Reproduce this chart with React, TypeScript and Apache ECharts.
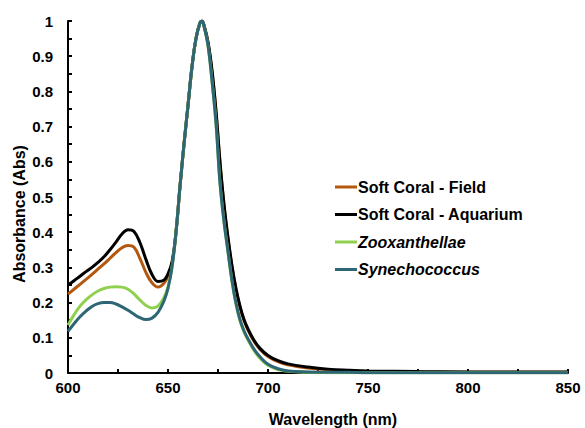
import React, { useEffect, useRef } from "react";
import * as echarts from "echarts";

const wavelengths = [600,603,606,609,612,615,618,621,624,627,630,633,636,639,642,645,648,650,652,654,656,658,660,662,664,666,667,668,670,672,674,676,678,680,682,684,686,688,690,693,696,700,705,710,720,730,740,750,775,800,825,850];

const softCoralField = [0.224,0.238,0.252,0.266,0.28,0.295,0.31,0.326,0.342,0.356,0.362,0.357,0.325,0.285,0.256,0.244,0.255,0.275,0.31,0.4,0.53,0.65,0.76,0.87,0.95,0.995,1.0,0.987,0.938,0.857,0.742,0.597,0.477,0.382,0.302,0.237,0.187,0.149,0.122,0.09,0.067,0.047,0.032,0.023,0.014,0.009,0.006,0.004,0.003,0.002,0.002,0.002];

const softCoralAquarium = [0.25,0.262,0.275,0.288,0.3,0.314,0.33,0.35,0.372,0.395,0.407,0.402,0.37,0.322,0.28,0.26,0.264,0.282,0.315,0.4,0.53,0.65,0.76,0.87,0.95,0.995,1.0,0.988,0.94,0.86,0.745,0.6,0.48,0.385,0.305,0.24,0.19,0.152,0.125,0.093,0.07,0.05,0.035,0.026,0.017,0.011,0.008,0.006,0.004,0.003,0.003,0.003];

const zooxanthellae = [0.136,0.165,0.19,0.208,0.222,0.233,0.24,0.244,0.245,0.244,0.238,0.225,0.207,0.192,0.185,0.19,0.215,0.245,0.3,0.4,0.53,0.65,0.76,0.87,0.95,0.995,1.0,0.985,0.93,0.83,0.71,0.54,0.43,0.343,0.26,0.195,0.148,0.117,0.094,0.064,0.042,0.022,0.01,0.005,0.002,0.001,0.001,0.001,0.001,0.001,0.001,0.001];

const synechococcus = [0.118,0.14,0.16,0.176,0.189,0.197,0.2,0.2,0.196,0.188,0.178,0.167,0.157,0.152,0.156,0.172,0.205,0.24,0.3,0.4,0.53,0.65,0.76,0.87,0.95,0.995,1.0,0.985,0.93,0.83,0.71,0.54,0.43,0.345,0.262,0.198,0.152,0.12,0.097,0.068,0.046,0.025,0.012,0.006,0.003,0.002,0.002,0.001,0.001,0.001,0.001,0.001];

const seriesNames = ["Soft Coral - Field", "Soft Coral - Aquarium", "Zooxanthellae", "Synechococcus"];
const seriesValues = [softCoralField, softCoralAquarium, zooxanthellae, synechococcus];
const seriesColors = ["#B5580F", "#000000", "#8FD14F", "#2E6675"];
const italicNames = ["Zooxanthellae", "Synechococcus"];

const FONT = "Liberation Sans, Arial, sans-serif";

export default function App() {
  const ref = useRef<HTMLDivElement>(null);
  useEffect(() => {
    if (!ref.current) return;
    const chart = echarts.init(ref.current, null, { renderer: "svg" });
    const series = seriesNames.map((name, i) => ({
      name,
      type: "line",
      data: wavelengths.map((w, j) => [w, seriesValues[i][j]]),
      smooth: 0.4,
      showSymbol: false,
      symbol: "none",
      lineStyle: { color: seriesColors[i], width: 3 },
      itemStyle: { color: seriesColors[i] },
      z: 2 + i,
    }));
    chart.setOption({
      animation: false,
      backgroundColor: "#ffffff",
      grid: { left: 68, right: 17, top: 21, bottom: 55 },
      legend: {
        orient: "vertical",
        left: 330,
        top: 174,
        itemWidth: 22,
        itemHeight: 3,
        itemGap: 11.5,
        icon: "rect",
        data: seriesNames,
        formatter: (name: string) =>
          italicNames.includes(name) ? `{i|${name}}` : `{n|${name}}`,
        textStyle: {
          fontFamily: FONT,
          fontSize: 16,
          fontWeight: "bold",
          color: "#000",
          padding: [0, 0, 0, -4],
          rich: {
            n: { fontFamily: FONT, fontSize: 16, fontWeight: "bold", color: "#000" },
            i: { fontFamily: FONT, fontSize: 16, fontWeight: "bold", fontStyle: "italic", color: "#000" },
          },
        },
      },
      xAxis: {
        type: "value",
        min: 600,
        max: 850,
        interval: 50,
        axisLine: { show: true, lineStyle: { color: "#000", width: 2 } },
        axisTick: { show: true, inside: true, length: 4, lineStyle: { color: "#000", width: 2 } },
        minorTick: { show: true, splitNumber: 2, length: 4, lineStyle: { color: "#000", width: 2 } },
        splitLine: { show: false },
        axisLabel: { margin: 7, fontFamily: FONT, fontSize: 15, fontWeight: "bold", color: "#000" },
      },
      yAxis: {
        type: "value",
        min: 0,
        max: 1,
        interval: 0.1,
        axisLine: { show: true, lineStyle: { color: "#000", width: 2 } },
        axisTick: { show: true, inside: true, length: 4, lineStyle: { color: "#000", width: 2 } },
        minorTick: { show: true, splitNumber: 2, length: 4, lineStyle: { color: "#000", width: 2 } },
        splitLine: { show: false },
        axisLabel: { margin: 15, fontFamily: FONT, fontSize: 15, fontWeight: "bold", color: "#000" },
      },
      graphic: [
        {
          type: "text",
          x: 19,
          y: 214,
          rotation: Math.PI / 2,
          style: {
            text: "Absorbance (Abs)",
            fontFamily: FONT,
            fontSize: 16,
            fontWeight: "bold",
            fill: "#000",
            align: "center",
            verticalAlign: "middle",
          },
        },
        {
          type: "text",
          x: 333,
          y: 419,
          style: {
            text: "Wavelength (nm)",
            fontFamily: FONT,
            fontSize: 16,
            fontWeight: "bold",
            fill: "#000",
            align: "center",
            verticalAlign: "middle",
          },
        },
      ],
      series,
    });
    return () => chart.dispose();
  }, []);
  return (
    <div
      ref={ref}
      style={{ position: "fixed", left: 0, top: 0, width: 585, height: 428 }}
    />
  );
}
